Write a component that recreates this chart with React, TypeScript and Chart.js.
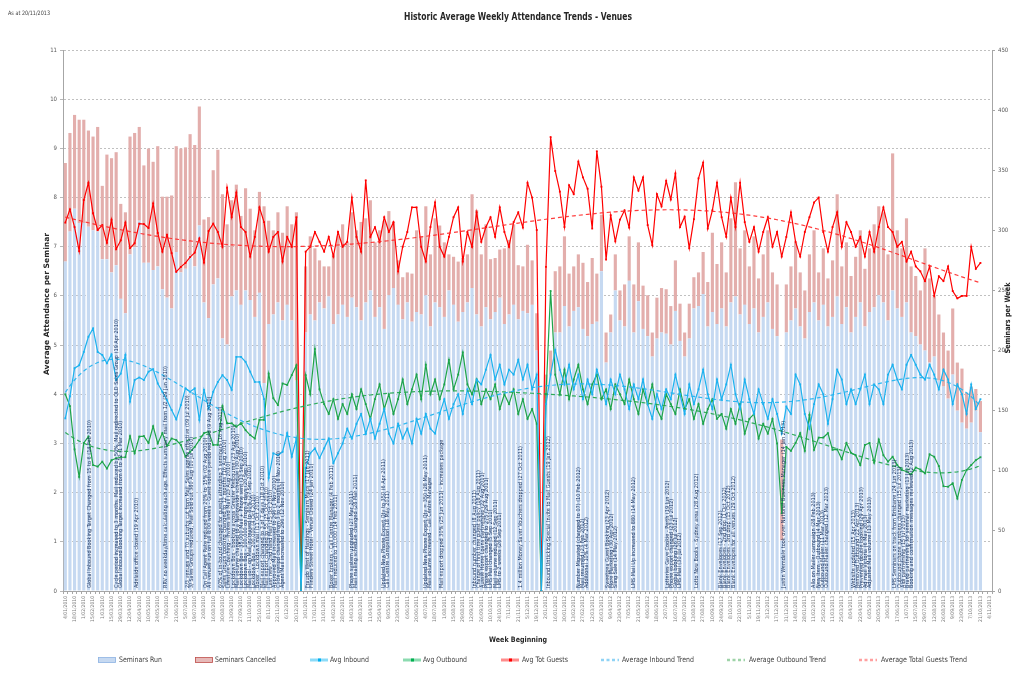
import React, { useEffect, useRef } from 'react';
import { Chart, registerables } from 'chart.js';
Chart.register(...registerables);

const FONT = "'Liberation Sans Narrow','DejaVu Sans Condensed','Liberation Sans',sans-serif";

// ---- categories: weekly, beginning 4 Jan 2010 ----
const FIRST_WEEK_UTC = Date.UTC(2010, 0, 4);
const WEEK_COUNT = 201;
const weekLabels: string[] = Array.from({ length: WEEK_COUNT }, (_, i) => {
  const d = new Date(FIRST_WEEK_UTC + i * 7 * 86400000);
  return `${d.getUTCDate()}/${String(d.getUTCMonth() + 1).padStart(2, '0')}/${d.getUTCFullYear()}`;
});

// ---- Seminars per week (right axis) ----
const seminarsRun: (number | null)[] = [
  274,299,318,306,306,303,300,299,276,276,
  265,271,243,231,280,286,308,273,273,267,
  270,251,244,235,282,265,268,279,270,304,
  240,227,255,260,210,205,245,250,238,250,
  242,228,248,173,222,230,240,225,238,225,
  175,0,215,230,225,240,235,245,222,230,
  238,228,244,236,225,240,250,228,236,218,
  246,252,238,226,240,224,232,230,246,220,
  240,236,228,250,238,224,232,240,252,230,
  220,236,226,232,244,222,230,238,226,233,
  231,238,200,0,160,180,215,215,237,220,
  233,236,218,212,222,224,266,190,215,250,
  225,220,258,215,241,218,212,195,210,215,
  214,205,233,208,195,210,235,237,247,220,
  232,222,235,220,240,245,230,238,222,235,
  215,228,240,218,212,42,215,225,235,220,
  210,232,240,225,238,220,228,245,222,236,
  215,228,240,220,232,236,246,240,225,250,
  235,228,240,215,212,205,200,190,195,175,
  170,160,180,150,140,135,140,150,132,null,
];
const seminarsCancelled: (number | null)[] = [
  82,82,78,86,86,80,78,87,61,87,
  95,94,79,84,98,95,78,81,95,90,
  100,77,84,94,88,103,101,101,101,99,
  69,84,95,107,120,100,80,88,74,85,
  76,72,84,147,86,70,75,73,82,80,
  140,0,55,65,60,35,35,25,58,65,
  67,62,71,64,82,70,75,62,64,90,
  70,55,37,35,25,40,68,65,74,60,
  70,68,62,30,40,50,45,40,78,87,
  60,69,50,45,40,63,62,67,45,37,
  57,37,31,0,20,20,51,55,58,44,
  37,44,55,45,55,40,47,25,15,30,
  25,35,37,40,49,36,34,20,34,37,
  37,32,42,31,20,29,26,28,35,37,
  66,50,55,45,70,95,55,62,48,60,
  45,52,60,47,43,84,40,45,55,45,
  40,48,60,40,47,40,47,85,48,54,
  47,50,60,48,53,69,74,75,55,114,
  65,57,70,55,50,45,85,70,50,55,
  45,40,55,40,45,30,30,18,26,null,
];

// ---- Average attendance per seminar (left axis) ----
const avgInbound: (number | null)[] = [
  3.51,3.96,4.53,4.59,4.86,5.17,5.34,4.86,4.80,4.63,
  4.81,4.29,4.42,4.80,3.85,4.29,4.34,4.29,4.46,4.51,
  4.22,4.05,3.88,3.68,3.49,3.78,4.12,4.05,4.12,3.48,
  4.09,3.71,4.05,4.25,4.39,4.29,4.09,4.76,4.76,4.66,
  4.46,4.25,4.25,3.9,2.3,2.80,2.76,2.83,3.21,2.73,
  3.10,0,2.5,2.8,2.9,2.7,2.9,3.1,2.6,2.8,
  3.0,3.3,3.1,3.4,3.6,3.2,3.5,3.1,3.4,3.7,
  3.2,3.0,3.4,3.1,3.3,3.0,3.5,3.2,3.6,3.3,
  3.2,3.6,3.9,3.5,3.8,4.0,3.6,4.1,3.8,4.3,
  4.2,4.5,4.8,4.3,4.6,4.2,4.5,4.4,4.7,4.3,
  4.6,4.1,4.4,0,3.8,4.4,4.9,4.5,4.2,4.6,
  4.1,4.4,3.9,4.3,4.0,4.5,4.2,3.8,4.3,4.0,
  4.4,4.1,3.7,4.2,3.9,4.3,3.8,3.5,4.0,3.7,
  4.1,3.9,4.4,4.0,3.6,4.2,3.8,4.1,4.5,4.0,
  3.7,4.3,3.9,4.2,4.6,4.0,3.7,4.3,3.9,3.6,
  4.1,3.8,3.5,3.9,3.6,3.2,3.75,3.6,4.4,4.2,
  3.6,3.3,3.8,4.2,4.0,3.4,3.9,4.5,4.3,3.8,
  4.1,3.8,4.1,4.4,3.8,4.2,4.1,3.8,4.4,4.6,
  4.3,4.1,4.6,4.8,4.6,4.4,4.3,4.6,4.4,4.1,
  4.5,4.3,3.8,4.2,4.0,3.6,4.2,3.7,3.9,null,
];
const avgOutbound: (number | null)[] = [
  4.00,3.76,2.88,2.32,3.01,3.14,2.56,2.53,2.63,2.49,
  2.66,2.70,2.72,2.72,3.15,2.80,3.14,3.15,3.01,3.35,
  3.00,3.21,2.95,3.10,3.07,2.97,2.73,2.83,2.93,3.07,
  3.21,3.24,2.97,2.97,3.76,3.41,3.41,3.34,3.41,3.27,
  3.17,3.10,3.48,3.48,4.42,3.92,3.78,4.22,4.19,4.39,
  4.59,0,4.39,4.0,4.92,4.1,3.8,3.6,3.9,3.5,
  3.8,3.6,4.0,3.7,4.1,3.8,3.5,3.9,4.2,3.7,
  4.0,3.6,3.9,4.3,3.8,4.1,4.4,3.9,4.6,4.0,
  4.3,3.9,4.2,4.7,4.1,4.4,4.85,4.2,4.0,4.3,
  3.8,4.1,3.9,4.2,3.7,4.0,3.8,4.1,3.6,3.9,
  3.5,3.7,3.4,0,4.0,6.1,4.4,4.0,4.5,3.9,
  4.3,4.6,4.1,3.8,4.2,4.4,3.9,4.1,3.7,4.2,
  4.0,3.8,4.3,3.9,3.6,4.1,3.8,4.2,3.7,3.5,
  4.0,3.8,3.6,4.1,3.7,3.9,3.5,3.8,3.4,3.7,
  3.9,3.5,3.6,3.3,3.7,3.4,3.8,3.2,3.5,3.6,
  3.1,3.4,3.2,3.5,3.0,1.58,2.93,2.85,3.01,3.21,
  2.85,3.58,2.87,3.12,3.12,3.21,2.87,2.88,2.68,3.01,
  2.81,2.76,2.56,2.97,3.01,2.61,3.08,2.76,2.63,2.73,
  2.56,2.46,2.43,2.37,2.51,2.47,2.39,2.78,2.73,2.54,
  2.13,2.12,2.19,1.88,2.26,2.46,2.56,2.66,2.72,null,
];
const avgTotGuests: (number | null)[] = [
  7.49,7.76,7.40,6.91,7.95,8.30,7.68,7.34,7.44,7.08,
  7.55,6.95,7.13,7.49,6.97,7.07,7.47,7.46,7.38,7.88,
  7.28,6.90,7.24,6.87,6.49,6.59,6.67,6.79,6.88,7.17,
  6.68,7.32,7.47,7.3,7.0,8.2,7.6,8.1,7.4,7.3,
  6.8,7.2,7.8,7.5,6.9,7.2,7.3,6.7,7.2,7.0,
  7.6,0,6.9,7.0,7.3,7.1,6.9,7.2,6.8,7.3,
  7.0,7.1,8.0,7.2,6.9,8.35,7.2,7.4,7.1,7.6,
  7.3,7.5,6.5,7.0,7.3,7.8,7.8,7.0,6.7,7.4,
  7.9,7.0,6.8,7.2,7.6,7.8,6.7,7.3,7.0,7.7,
  7.1,7.4,7.6,7.2,7.8,7.3,7.0,7.5,7.7,7.39,
  8.30,8.00,7.34,0,6.59,9.23,8.54,8.12,7.40,8.25,
  8.07,8.73,8.41,8.18,7.37,8.94,8.22,6.74,7.64,7.11,
  7.55,7.74,7.39,8.41,8.14,8.41,7.44,7.03,8.07,7.82,
  8.34,7.96,8.49,7.40,7.61,6.97,7.56,8.39,8.71,7.37,
  7.74,8.30,7.6,7.2,8.0,7.4,8.3,7.5,7.1,7.4,
  6.9,7.3,7.6,7.0,7.3,6.8,7.2,7.7,7.1,6.8,
  7.3,7.6,7.9,8.0,7.3,6.9,7.4,7.7,7.0,7.5,
  7.3,7.0,7.2,6.8,7.3,6.9,7.4,7.8,7.4,7.3,
  7.0,7.1,6.7,6.9,6.6,6.5,6.3,6.6,6.0,6.4,
  6.3,6.6,6.1,5.95,6.0,6.0,7.0,6.55,6.67,null,
];

const leftTicks = [0, 1, 2, 3, 4, 5, 6, 7, 8, 9, 10, 11];
const rightTicks = [0, 50, 100, 150, 200, 250, 300, 350, 400, 450];

// ---- event notes (week index, text) ----
const annotations: [number, string][] = [
  [5.2, 'Global Inbound Booking Target Changed from 15 to 6 (14 Feb 2010)'],
  [11.1, 'Cycle period increased to 3 months. Mail reduced by 50%. Mail redirected to QLD Sales Group (19 Apr 2010)'],
  [11.9, 'Global Inbound Booking Target increased from 6 to 12 (1 Mar 2010)'],
  [15.4, 'Adelaide office closed (19 Apr 2010)'],
  [21.7, 'RRV no weekday/time calculating each age. Effects summary mail from 1/2 (19 Jun 2010)'],
  [26.5, '2/3 venues and 70 suburbs cut from Mail. Sales agents effective (09 Jul 2010)'],
  [27.3, '3/ Sales Groups reduced, Mail Sold out 380 Aug (10 Jul 2010)'],
  [30.4, 'On Call Agent Rate reduced from 20% to 15% (02 Aug 2010)'],
  [31.2, 'All venues run on full 8:00 weeks - Guest notice period reduced (9 Aug 2010)'],
  [33.6, '60% of in-bound changed for guests attending 3 seminars (16 Aug 2010)'],
  [34.5, 'Sales Groups booking changed to 12 months (16 Aug 2010)'],
  [35.4, 'Lifestyle Coaching - invites and Mail (23 Aug 2010)'],
  [36.3, 'Lockdown Box - booking across Greater Melbourne (23 Aug 2010)'],
  [37.2, 'Mail volume changed to a Nationwide schedule (30 Aug 2010)'],
  [38.1, 'Lockdown Box - 35,000 Mail + Phone sent (13 Sep 2010)'],
  [39.0, 'Lockdown Box - 100,000 on from 4 days (20 Sep 2010)'],
  [39.9, 'Mail vol - on Mail increased to 80% (27 Sep 2010)'],
  [40.8, 'Lockdown Box - 200,000 (4 Oct 2010)'],
  [41.7, 'Boxer - Lockdown mail (11 Oct 2010)'],
  [42.6, 'Mail export changed to 3 of 7 days (18 Oct 2010)'],
  [43.5, 'Mail export changed to 55 (25 Oct 2010)'],
  [44.4, 'Last new - 2nd hand Mail (25 Oct 2010)'],
  [45.3, 'Approved Mail increased to 296 (1 Nov 2010)'],
  [46.2, 'Cycle period changed from 3 to 2 months (8 Nov 2010)'],
  [47.1, 'Agent Mail increased to 296 (12 Nov 2010)'],
  [52.4, 'Fraudo West of Hastings - Seminars Maps (17 Jan 2011)'],
  [53.2, 'Flinders Street Hotel - Venue Closed (24 Jan 2011)'],
  [57.6, 'Boxer brokers - Call Centre Manager (4 Feb 2011)'],
  [58.5, 'Mail reduced to 10,000 (14 Feb 2011)'],
  [62.0, 'Phone system upgraded (27 Mar 2011)'],
  [62.9, 'Mail mailing schedule changed (28 Mar 2011)'],
  [68.8, 'Updated New Phone Expert Qty to 350 (6 Apr 2011)'],
  [69.7, 'Call Centre Competition (18 May 2011)'],
  [78.0, 'Updated New Phone Expert Qty = 350 (28 May 2011)'],
  [78.9, 'Mail volume increased - Call Centre Manager'],
  [81.5, 'Mail export dropped 30% (25 Jun 2011) - increases package'],
  [88.5, 'Inbound number changed (8 Aug 2011)'],
  [89.4, 'Change of first time guest policy (18 Aug 2011)'],
  [90.3, 'Aussie Home Loans partnership (22 Aug 2011)'],
  [91.2, 'Phone export changed to 275 (29 Aug 2011)'],
  [92.1, 'LMS Mail changed (5 Sep 2011)'],
  [93.0, 'Mail volume reduced (12 Sep 2011)'],
  [93.9, 'LMS to 2 weeks (26 Sep 2011)'],
  [98.5, '1.4 million Money Saver Vouchers dropped (27 Oct 2011)'],
  [104.5, 'Inbound Unticking Special Invite to Mail Guests (19 Jan 2012)'],
  [111.0, 'Number Migrated (changed to 07) (10 Feb 2012)'],
  [111.9, 'Mail resumed (23 Feb 2012)'],
  [112.8, 'Additional 10% (4 Mar 2012)'],
  [117.3, 'Sweetpea Guest Booking (23 Apr 2012)'],
  [118.2, 'More Marketing (30 Apr 2012)'],
  [119.1, 'Sling Sale (14 May 2012)'],
  [123.0, 'LMS Mail Up increased to 880 (14 May 2012)'],
  [130.3, 'Lotteries Gave Cookie - Perth (19 Jun 2012)'],
  [131.2, 'Phone export changed (23 Jul 2012)'],
  [132.1, 'Global booking (26 Jul 2012)'],
  [133.0, 'LMS Mail (30 Jul 2012)'],
  [136.5, 'Lotto Now Books - Sydney area (28 Aug 2012)'],
  [141.8, 'Blank Envelopes (17 Sep 2012)'],
  [142.7, 'Blank Envelopes - 2nd drop (1 Oct 2012)'],
  [143.6, 'Blank Envelopes - 3rd drop (15 Oct 2012)'],
  [144.5, 'Blank Envelopes for all venues (29 Oct 2012)'],
  [155.5, 'Justin Wemdale took over National Business Manager (14 Jan 2013)'],
  [162.0, 'Allo on Mailer campaign (28 Feb 2013)'],
  [162.9, 'New Item - Outbound (4 Mar 2013)'],
  [163.8, 'Outbound Mailer (11 Mar 2013)'],
  [164.7, 'Outbound Mailer changed (12 Mar 2013)'],
  [170.5, 'Website updated (15 Apr 2013)'],
  [171.4, 'Removed Outbound (22 Apr 2013)'],
  [172.3, 'Prevented double booking (29 Apr 2013)'],
  [173.2, 'Ad mail Victoria (6 May 2013)'],
  [174.1, 'Adjusted Mail volume (13 May 2013)'],
  [179.5, 'LMS Seminars on track from Brisbane (24 Jun 2013)'],
  [180.4, 'Outbound phone numbers changed (15 Jul 2013)'],
  [181.3, 'Aldi partnership (15 Jul 2013)'],
  [182.2, 'Brand partnership for seminar marketing (13 Jul 2013)'],
  [183.1, 'Booking and confirmation messages reviewed (2 Aug 2013)'],
];

// ---- polynomial trend (least squares, as in the spreadsheet trendline) ----
function polyTrend(values: (number | null)[], degree: number): (number | null)[] {
  const idx: number[] = [];
  values.forEach((v, i) => { if (v !== null) idx.push(i); });
  const first = idx[0], last = idx[idx.length - 1];
  const mid = (first + last) / 2, half = (last - first) / 2;
  const m = degree + 1;
  const A = Array.from({ length: m }, () => new Array(m + 1).fill(0));
  for (const i of idx) {
    const t = (i - mid) / half;
    const pw: number[] = [];
    let p = 1;
    for (let k = 0; k < m; k++) { pw.push(p); p *= t; }
    for (let r = 0; r < m; r++) {
      for (let c = 0; c < m; c++) A[r][c] += pw[r] * pw[c];
      A[r][m] += pw[r] * (values[i] as number);
    }
  }
  for (let col = 0; col < m; col++) {
    let piv = col;
    for (let r = col + 1; r < m; r++) if (Math.abs(A[r][col]) > Math.abs(A[piv][col])) piv = r;
    [A[col], A[piv]] = [A[piv], A[col]];
    for (let r = 0; r < m; r++) {
      if (r === col) continue;
      const f = A[r][col] / A[col][col];
      for (let c = col; c <= m; c++) A[r][c] -= f * A[col][c];
    }
  }
  const coef = A.map((row, r) => row[m] / row[r]);
  return values.map((_, i) => {
    if (i < first || i > last) return null;
    const t = (i - mid) / half;
    let s = 0, p = 1;
    for (let k = 0; k < m; k++) { s += coef[k] * p; p *= t; }
    return s;
  });
}

function drawText(ctx: CanvasRenderingContext2D, text: string, x: number, y: number,
  o: { size: number; bold?: boolean; color?: string; width?: number; angle?: number; align?: CanvasTextAlign }) {
  ctx.save();
  ctx.font = `${o.bold ? 'bold ' : ''}${o.size}px ${FONT}`;
  ctx.fillStyle = o.color || '#404040';
  ctx.textBaseline = 'middle';
  ctx.textAlign = o.align || 'center';
  ctx.translate(x, y);
  if (o.angle) ctx.rotate(o.angle);
  if (o.width) {
    const w = ctx.measureText(text).width;
    if (w > 0) ctx.scale(o.width / w, 1);
  }
  ctx.fillText(text, 0, 0);
  ctx.restore();
}

const legendItems = [
  { kind: 'box', fill: '#c6d9f1', stroke: '#8eb4e3', label: 'Seminars Run', x0: 98, tx: 119, tw: 43 },
  { kind: 'box', fill: '#e6b9b8', stroke: '#c0504d', label: 'Seminars Cancelled', x0: 195, tx: 215, tw: 61 },
  { kind: 'line', color: '#00b0f0', label: 'Avg Inbound', x0: 310, tx: 330, tw: 39 },
  { kind: 'line', color: '#00b050', label: 'Avg Outbound', x0: 403, tx: 423, tw: 44 },
  { kind: 'line', color: '#ff0000', label: 'Avg Tot Guests', x0: 501, tx: 522, tw: 46 },
  { kind: 'dash', color: '#8fd3f5', label: 'Average Inbound Trend', x0: 601, tx: 622, tw: 72 },
  { kind: 'dash', color: '#9ed3a8', label: 'Average Outbound Trend', x0: 727, tx: 749, tw: 77 },
  { kind: 'dash', color: '#ff9f9f', label: 'Average Total Guests Trend', x0: 859, tx: 881, tw: 86 },
];

const overlayPlugin = {
  id: 'overlay',
  afterDatasetsDraw(chart: any) {
    const ctx: CanvasRenderingContext2D = chart.ctx;
    const xs = chart.scales.x;
    const bottom = chart.chartArea.bottom - 3;
    ctx.save();
    ctx.font = `5.5px ${FONT}`;
    ctx.fillStyle = '#1f3864';
    ctx.textBaseline = 'middle';
    ctx.textAlign = 'left';
    for (const [w, t] of annotations) {
      const x = xs.getPixelForValue(w);
      ctx.save();
      ctx.translate(x, bottom);
      ctx.rotate(-Math.PI / 2);
      ctx.fillText(t, 0, 0);
      ctx.restore();
    }
    ctx.restore();
  },
  afterDraw(chart: any) {
    const ctx: CanvasRenderingContext2D = chart.ctx;
    drawText(ctx, 'As at 20/11/2013', 8, 13, { size: 6, align: 'left', width: 42, color: '#404040' });
    drawText(ctx, 'Historic Average Weekly Attendance Trends - Venues', 518, 17, { size: 11, bold: true, width: 228, color: '#262626' });
    drawText(ctx, 'Average Attendance per Seminar', 47, 304, { size: 7.5, bold: true, width: 142, angle: -Math.PI / 2, color: '#262626' });
    drawText(ctx, 'Seminars per Week', 1008, 318, { size: 7.5, bold: true, width: 71, angle: -Math.PI / 2, color: '#262626' });
    drawText(ctx, 'Week Beginning', 518, 640, { size: 7.5, bold: true, width: 58, color: '#262626' });
    const ly = 660;
    for (const it of legendItems) {
      ctx.save();
      if (it.kind === 'box') {
        ctx.fillStyle = it.fill as string;
        ctx.fillRect(it.x0, ly - 2.5, 18, 5);
        ctx.strokeStyle = it.stroke as string;
        ctx.lineWidth = 0.8;
        ctx.strokeRect(it.x0 + 0.5, ly - 2.5, 17, 5);
      } else if (it.kind === 'line') {
        ctx.strokeStyle = it.color as string;
        ctx.globalAlpha = 0.45;
        ctx.lineWidth = 3;
        ctx.beginPath(); ctx.moveTo(it.x0, ly); ctx.lineTo(it.x0 + 18, ly); ctx.stroke();
        ctx.globalAlpha = 1;
        ctx.fillStyle = it.color as string;
        ctx.fillRect(it.x0 + 8, ly - 1.5, 3, 3);
      } else {
        ctx.strokeStyle = it.color as string;
        ctx.lineWidth = 2.5;
        ctx.setLineDash([3, 2.5]);
        ctx.beginPath(); ctx.moveTo(it.x0, ly); ctx.lineTo(it.x0 + 18, ly); ctx.stroke();
      }
      ctx.restore();
      drawText(ctx, it.label, it.tx, ly, { size: 7.5, align: 'left', width: it.tw, color: '#404040' });
    }
  },
};

export default function App() {
  const ref = useRef<HTMLCanvasElement>(null);
  useEffect(() => {
    document.body.style.margin = '0';
    const inboundTrend = polyTrend(avgInbound, 6);
    const outboundTrend = polyTrend(avgOutbound, 6);
    const totalTrend = polyTrend(avgTotGuests, 6);
    const lineCommon = {
      type: 'line' as const, yAxisID: 'y', borderWidth: 1.2, pointRadius: 1.3, pointStyle: 'rect' as const,
      pointBorderWidth: 0, tension: 0, order: 1, spanGaps: false,
    };
    const trendCommon = {
      type: 'line' as const, yAxisID: 'y', borderWidth: 1.2, pointRadius: 0, borderDash: [4, 3], order: 0, tension: 0,
    };
    const chart = new Chart(ref.current as HTMLCanvasElement, {
      data: {
        labels: weekLabels,
        datasets: [
          { ...lineCommon, label: 'Avg Inbound', data: avgInbound, borderColor: '#1cb2ef', backgroundColor: '#1cb2ef' },
          { ...lineCommon, label: 'Avg Outbound', data: avgOutbound, borderColor: '#1ea54a', backgroundColor: '#1ea54a' },
          { ...lineCommon, label: 'Avg Tot Guests', data: avgTotGuests, borderColor: '#ff0000', backgroundColor: '#ff0000' },
          { ...trendCommon, label: 'Average Inbound Trend', data: inboundTrend, borderColor: 'rgba(28,178,239,0.9)' },
          { ...trendCommon, label: 'Average Outbound Trend', data: outboundTrend, borderColor: 'rgba(30,165,74,0.9)' },
          { ...trendCommon, label: 'Average Total Guests Trend', data: totalTrend, borderColor: 'rgba(255,40,40,0.9)' },
          { type: 'bar', label: 'Seminars Run', data: seminarsRun, yAxisID: 'y1', stack: 's', backgroundColor: '#c6d9f1', borderWidth: 0, barPercentage: 0.68, categoryPercentage: 1, order: 10 },
          { type: 'bar', label: 'Seminars Cancelled', data: seminarsCancelled, yAxisID: 'y1', stack: 's', backgroundColor: '#e3aeac', borderWidth: 0, barPercentage: 0.68, categoryPercentage: 1, order: 10 },
        ] as any,
      },
      options: {
        responsive: false,
        animation: false,
        devicePixelRatio: 1,
        layout: { padding: { top: 50, left: 0, right: 0, bottom: 0 } },
        plugins: { legend: { display: false }, title: { display: false }, tooltip: { enabled: false } },
        scales: {
          x: {
            type: 'category', stacked: true, offset: true,
            grid: { display: true, drawOnChartArea: false, drawTicks: true, tickLength: 3, color: '#a6a6a6' },
            border: { display: true, color: '#a6a6a6' },
            ticks: {
              autoSkip: false, maxRotation: 90, minRotation: 90, padding: 2,
              font: { size: 5, family: FONT }, color: '#7f7f7f',
              callback: (_v: any, i: number) => (i % 2 === 0 ? weekLabels[i] : ''),
            },
            afterFit: (s: any) => { s.height = 92; },
          },
          y: {
            type: 'linear', position: 'left', min: 0, max: 11,
            afterBuildTicks: (s: any) => { s.ticks = leftTicks.map((v) => ({ value: v })); },
            ticks: { font: { size: 6, family: FONT }, color: '#595959', padding: 3 },
            grid: { color: '#b0b0b0', lineWidth: 0.8, drawTicks: true, tickLength: 3, tickColor: '#a6a6a6' },
            border: { display: true, color: '#a6a6a6', dash: [2, 2] },
            afterFit: (s: any) => { s.width = 63; },
          },
          y1: {
            type: 'linear', position: 'right', min: 0, max: 450, stacked: true,
            afterBuildTicks: (s: any) => { s.ticks = rightTicks.map((v) => ({ value: v })); },
            ticks: { font: { size: 6, family: FONT }, color: '#595959', padding: 3 },
            grid: { drawOnChartArea: false, drawTicks: true, tickLength: 3, color: '#a6a6a6' },
            border: { display: true, color: '#a6a6a6' },
            afterFit: (s: any) => { s.width = 32; },
          },
        },
      } as any,
      plugins: [overlayPlugin],
    });
    return () => chart.destroy();
  }, []);
  return (
    <div style={{ position: 'fixed', left: 0, top: 0, width: 1024, height: 683, background: '#ffffff' }}>
      <canvas ref={ref} width={1024} height={683} style={{ width: 1024, height: 683, display: 'block' }} />
    </div>
  );
}
